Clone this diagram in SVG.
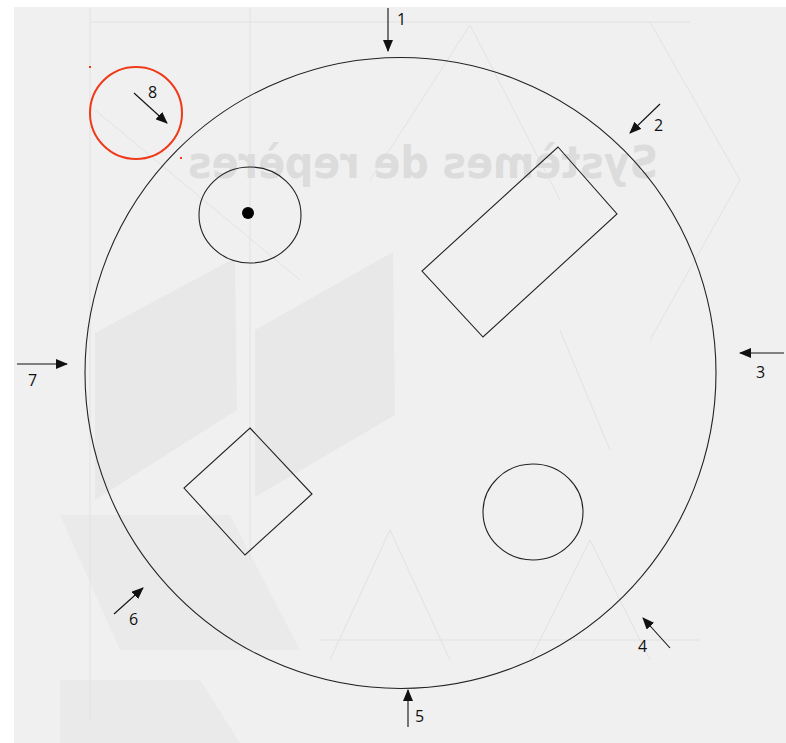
<svg xmlns="http://www.w3.org/2000/svg" width="786" height="743" viewBox="0 0 786 743">
<defs>
<style>
.shape{fill:none;stroke:#222;stroke-width:1.1}
.arrow{fill:none;stroke:#111;stroke-width:1.1;marker-end:url(#ah)}
.lbl{font-family:"Open Sans","Liberation Sans",sans-serif;font-size:16px;fill:#111}
.bg{fill:#e8e8e8}
.bgl{fill:none;stroke:#e2e2e2;stroke-width:1}
</style>
<marker id="ah" viewBox="0 0 12 10" refX="11" refY="5" markerWidth="12" markerHeight="10" markerUnits="userSpaceOnUse" orient="auto">
<path d="M0,0 L12,5 L0,10 Z" fill="#111"/>
</marker>
</defs>
<rect x="0" y="0" width="786" height="743" fill="#ffffff"/>
<rect x="14" y="7" width="772" height="736" fill="#f0f0f0"/>
<g id="background">
<path class="bg" d="M95,333 L235,258 L237,410 L95,500 Z"/>
<path class="bg" d="M255,330 L393,252 L395,415 L255,497 Z"/>
<path class="bg" d="M60,515 L230,515 L300,650 L120,650 Z" opacity="0.8"/>
<path class="bg" d="M60,680 L200,680 L240,743 L60,743 Z" opacity="0.8"/>
<path class="bgl" d="M90,22 L690,22 M90,8 L90,720 M250,8 L250,560 M470,25 L370,180 M470,25 L560,200 M650,22 L740,180 L650,340 M560,330 L610,450 M330,660 L390,530 L450,660 M530,660 L590,540 L650,660 M320,640 L700,640 M95,110 L300,280"/>
<text x="422" y="178" transform="translate(845,0) scale(-1,1)" text-anchor="middle" font-family="'DejaVu Sans','Liberation Sans',sans-serif" font-weight="bold" font-size="44" fill="#dcdcdc" textLength="470" lengthAdjust="spacingAndGlyphs">Systèmes de repères</text>
</g>
<g id="main-circle"><circle class="shape" cx="400.5" cy="373" r="315.5"/></g>
<g id="circle-dot"><ellipse class="shape" cx="250" cy="215" rx="51" ry="48"/><circle cx="248" cy="213" r="6" fill="#000"/></g>
<g id="rectangle"><polygon class="shape" points="558,147 617,214 483,337 422,271"/></g>
<g id="diamond"><polygon class="shape" points="250,428 312,494 245,555 184,488"/></g>
<g id="circle-br"><ellipse class="shape" cx="533" cy="512" rx="50" ry="48"/></g>
<g id="highlight">
<circle cx="136" cy="113" r="46" fill="none" stroke="#ee3a1a" stroke-width="2"/>
<rect x="89" y="66" width="2" height="2" fill="#ee3a1a"/>
<rect x="180" y="157" width="2" height="2" fill="#ee3a1a"/>
</g>
<g id="connectors">
<line class="arrow" x1="388" y1="8" x2="388" y2="51"/>
<line class="arrow" x1="660" y1="104" x2="630" y2="133"/>
<line class="arrow" x1="784" y1="353" x2="740" y2="353"/>
<line class="arrow" x1="670" y1="648" x2="643" y2="618"/>
<line class="arrow" x1="408" y1="727" x2="408" y2="690"/>
<line class="arrow" x1="114" y1="614" x2="143" y2="588"/>
<line class="arrow" x1="17" y1="364" x2="67" y2="364"/>
<line class="arrow" x1="134" y1="93" x2="167" y2="123"/>
</g>
<g id="labels">
<text class="lbl" x="397" y="25">1</text>
<text class="lbl" x="654" y="131">2</text>
<text class="lbl" x="756" y="378">3</text>
<text class="lbl" x="638" y="652">4</text>
<text class="lbl" x="415" y="722">5</text>
<text class="lbl" x="129" y="625">6</text>
<text class="lbl" x="28" y="386">7</text>
<text class="lbl" x="148" y="98">8</text>
</g>
</svg>
